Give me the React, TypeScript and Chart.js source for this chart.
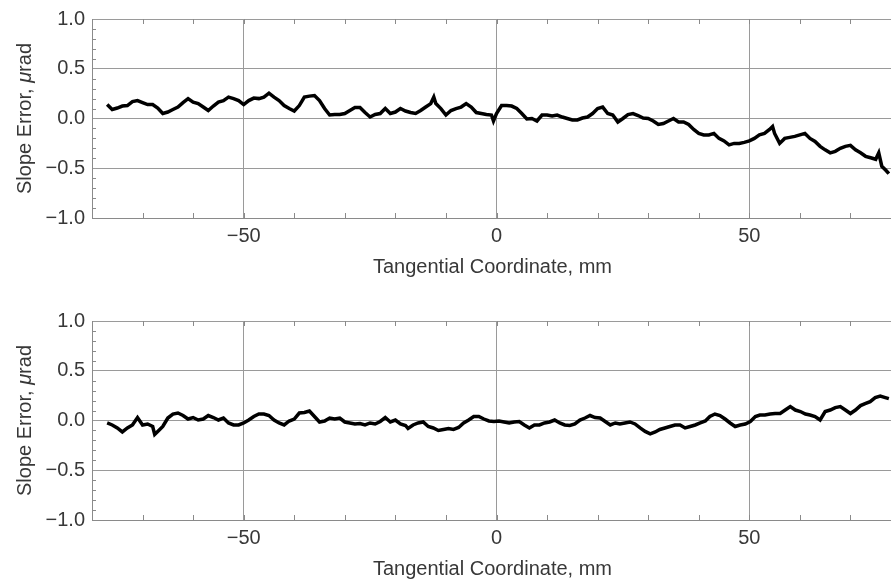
import React, { useEffect, useRef } from "react";
import { Chart, registerables } from "chart.js";

Chart.register(...registerables);

// ---------- data ----------
const topX = [
  -77, -76, -75, -74, -73, -72, -71, -70, -69, -68, -67, -66, -65, -64, -63, -62, -61, -60, -59, -58,
  -57, -56, -55, -54, -53, -52, -51, -50, -49, -48, -47, -46, -45, -44, -43, -42, -41, -40, -39, -38,
  -37, -36, -35, -34, -33, -32, -31, -30, -29, -28, -27, -26, -25, -24, -23, -22, -21, -20, -19, -18,
  -17, -16, -15, -14, -13, -12.4, -12, -11, -10, -9, -8, -7, -6, -5, -4, -3, -2, -1, -0.6, 0,
  1, 2, 3, 4, 5, 6, 7, 8, 9, 10, 11, 12, 13, 14, 15, 16, 17, 18, 19, 20,
  21, 22, 23, 24, 25, 26, 27, 28, 29, 30, 31, 32, 33, 34, 35, 36, 37, 38, 39, 40,
  41, 42, 43, 44, 45, 46, 47, 48, 49, 50, 51, 52, 53, 54, 54.6, 55, 56, 57, 58, 59,
  60, 61, 62, 63, 64, 65, 66, 67, 68, 69, 70, 71, 72, 73, 74, 75, 75.6, 76.2, 77, 77.6,
];
const topY = [
  0.14, 0.09, 0.105, 0.125, 0.13, 0.17, 0.18, 0.16, 0.14, 0.14, 0.105, 0.05, 0.065, 0.09, 0.115, 0.16, 0.2, 0.165, 0.15, 0.115,
  0.08, 0.125, 0.165, 0.18, 0.215, 0.2, 0.18, 0.14, 0.18, 0.205, 0.2, 0.215, 0.255, 0.215, 0.18, 0.13, 0.1, 0.075, 0.13, 0.215,
  0.225, 0.23, 0.18, 0.1, 0.035, 0.04, 0.04, 0.05, 0.08, 0.11, 0.11, 0.06, 0.015, 0.04, 0.05, 0.1, 0.05, 0.065, 0.1, 0.075,
  0.06, 0.05, 0.08, 0.115, 0.15, 0.215, 0.15, 0.1, 0.035, 0.08, 0.1, 0.115, 0.15, 0.115, 0.06, 0.05, 0.04, 0.035, -0.025, 0.05,
  0.13, 0.13, 0.125, 0.1, 0.05, -0.005, 0.0, -0.025, 0.035, 0.035, 0.025, 0.035, 0.015, 0.0, -0.015, -0.015, 0.005, 0.015, 0.05, 0.1,
  0.115, 0.05, 0.035, -0.035, 0.0, 0.04, 0.05, 0.03, 0.005, 0.0, -0.025, -0.06, -0.05, -0.025, 0.0, -0.035, -0.035, -0.06, -0.11, -0.15,
  -0.165, -0.165, -0.15, -0.2, -0.225, -0.265, -0.25, -0.25, -0.24, -0.225, -0.2, -0.165, -0.15, -0.11, -0.08, -0.15, -0.25, -0.2, -0.19, -0.18,
  -0.165, -0.15, -0.2, -0.23, -0.28, -0.315, -0.345, -0.33, -0.3, -0.28, -0.27, -0.315, -0.345, -0.38, -0.395, -0.41, -0.345, -0.48, -0.52, -0.555,
];

const bottomX = [
  -77, -76, -75, -74, -73, -72, -71, -70, -69, -68, -67.6, -67, -66, -65, -64, -63, -62, -61, -60, -59,
  -58, -57, -56, -55, -54, -53, -52, -51, -50, -49, -48, -47, -46, -45, -44, -43, -42, -41, -40, -39,
  -38, -37, -36, -35, -34, -33, -32, -31, -30, -29, -28, -27, -26, -25, -24, -23, -22, -21, -20, -19,
  -18, -17.5, -16.5, -15.5, -14.5, -13.5, -12.5, -11.5, -10.5, -9.5, -8.5, -7.5, -6.5, -5.5, -4.5, -3.5, -2.5, -1.5, -0.5, 0.5,
  1.5, 2.5, 3.5, 4.5, 5.5, 6.5, 7.5, 8.5, 9.5, 10.5, 11.5, 12.5, 13.5, 14.5, 15.5, 16.5, 17.5, 18.5, 19.5, 20.5,
  21.5, 22.5, 23.5, 24.4, 25.4, 26.4, 27.4, 28.4, 29.4, 30.4, 31.4, 32.3, 33.3, 34.3, 35.3, 36.3, 37.3, 38.3, 39.3, 40.3,
  41.3, 42.2, 43.2, 44.2, 45.2, 46.2, 47.2, 48.2, 49.2, 50.2, 51.2, 52.1, 53.1, 54.1, 55.1, 56.1, 57.1, 58.1, 59.1, 60.1,
  61.1, 62.0, 63.0, 64.0, 65.0, 66.0, 67.0, 68.0, 69.0, 70.0, 71.0, 72.0, 72.9, 73.9, 74.9, 75.9, 76.9, 77.6,
];
const bottomY = [
  -0.025, -0.045, -0.075, -0.115, -0.075, -0.045, 0.03, -0.045, -0.035, -0.06, -0.14, -0.11, -0.06, 0.025, 0.065, 0.075, 0.05, 0.015, 0.03, 0.005,
  0.015, 0.05, 0.03, 0.005, 0.025, -0.025, -0.045, -0.045, -0.025, 0.005, 0.04, 0.065, 0.065, 0.05, 0.005, -0.025, -0.045, -0.005, 0.015, 0.075,
  0.08, 0.095, 0.04, -0.015, -0.005, 0.025, 0.015, 0.025, -0.015, -0.025, -0.035, -0.03, -0.045, -0.025, -0.035, -0.01, 0.03, -0.015, 0.005, -0.035,
  -0.05, -0.08, -0.045, -0.025, -0.015, -0.06, -0.075, -0.1, -0.09, -0.08, -0.09, -0.07, -0.025, 0.005, 0.04, 0.04, 0.015, -0.005, -0.01, -0.005,
  -0.015, -0.025, -0.015, -0.01, -0.045, -0.075, -0.045, -0.045, -0.025, -0.015, 0.005, -0.025, -0.045, -0.05, -0.035, 0.005, 0.025, 0.05, 0.03, 0.025,
  -0.01, -0.045, -0.025, -0.035, -0.025, -0.015, -0.035, -0.075, -0.11, -0.135, -0.115, -0.09, -0.075, -0.06, -0.045, -0.045, -0.075, -0.06, -0.045, -0.025,
  -0.005, 0.04, 0.065, 0.05, 0.015, -0.025, -0.06, -0.045, -0.035, -0.01, 0.04, 0.055, 0.055, 0.065, 0.07, 0.07, 0.105, 0.14, 0.105, 0.09,
  0.065, 0.055, 0.04, 0.005, 0.09, 0.105, 0.13, 0.14, 0.105, 0.07, 0.105, 0.15, 0.17, 0.19, 0.23, 0.245, 0.23, 0.22,
];

// ---------- axes ----------
const xMin = -80;
const xMax = 80;
const yMin = -1;
const yMax = 1;
const xMajorTicks = [-50, 0, 50];
const xMinorTicks = [-70, -60, -50, -40, -30, -20, -10, 0, 10, 20, 30, 40, 50, 60, 70];
const yMajorTicks = [-1, -0.5, 0, 0.5, 1];
const yMinorTicks = [-0.9, -0.8, -0.7, -0.6, -0.4, -0.3, -0.2, -0.1, 0.1, 0.2, 0.3, 0.4, 0.6, 0.7, 0.8, 0.9];
const yTickLabels = ["−1.0", "−0.5", "0.0", "0.5", "1.0"];
const xTitle = "Tangential Coordinate, mm";
const yTitleParts: [string, boolean][] = [
  ["Slope Error, ", false],
  ["μ", true],
  ["rad", false],
];

const FONT_FAMILY = '"Liberation Sans", Arial, Helvetica, sans-serif';
const TEXT_COLOR = "#383838";
const GRID_COLOR = "#9a9a9a";
const FRAME_COLOR = "#8a8a8a";

const CANVAS_W = 906;
const CANVAS_H = 302;

const decorPlugin = {
  id: "decor",
  afterDraw(chart: any) {
    const { ctx, chartArea: a } = chart;
    const xs = chart.scales.x;
    const ys = chart.scales.y;
    ctx.save();
    // inward tick marks on frame
    ctx.strokeStyle = FRAME_COLOR;
    ctx.lineWidth = 1;
    ctx.beginPath();
    for (const v of xMinorTicks) {
      const px = Math.round(xs.getPixelForValue(v)) + 0.5;
      ctx.moveTo(px, a.bottom);
      ctx.lineTo(px, a.bottom - 5);
      ctx.moveTo(px, a.top);
      ctx.lineTo(px, a.top + 5);
    }
    for (const v of yMinorTicks) {
      const py = Math.round(ys.getPixelForValue(v)) + 0.5;
      ctx.moveTo(a.left, py);
      ctx.lineTo(a.left + 4, py);
    }
    ctx.stroke();

    // x title
    ctx.fillStyle = TEXT_COLOR;
    ctx.font = `20px ${FONT_FAMILY}`;
    ctx.textAlign = "center";
    ctx.textBaseline = "alphabetic";
    ctx.fillText(xTitle, (a.left + a.right) / 2 - 4, a.bottom + 55);

    // y title (rotated, with italic mu)
    ctx.translate(31, (a.top + a.bottom) / 2);
    ctx.rotate(-Math.PI / 2);
    ctx.textAlign = "left";
    const fonts = yTitleParts.map(([, it]) => `${it ? "italic " : ""}20px ${FONT_FAMILY}`);
    let total = 0;
    const widths = yTitleParts.map(([t], i) => {
      ctx.font = fonts[i];
      const w = ctx.measureText(t).width;
      total += w;
      return w;
    });
    let cx = -total / 2;
    yTitleParts.forEach(([t], i) => {
      ctx.font = fonts[i];
      ctx.fillText(t, cx, 0);
      cx += widths[i];
    });
    ctx.restore();
  },
};

function makeConfig(xs: number[], ys: number[]): any {
  return {
    type: "line",
    data: {
      datasets: [
        {
          data: xs.map((x, i) => ({ x, y: ys[i] })),
          borderColor: "#000000",
          borderWidth: 3.5,
          borderJoinStyle: "miter",
          pointRadius: 0,
          tension: 0,
          fill: false,
        },
      ],
    },
    options: {
      responsive: false,
      animation: false,
      events: [],
      layout: { padding: { top: 16, right: 5, left: 0, bottom: 0 } },
      plugins: { legend: { display: false }, tooltip: { enabled: false }, title: { display: false } },
      scales: {
        x: {
          type: "linear",
          min: xMin,
          max: xMax,
          afterBuildTicks: (s: any) => {
            s.ticks = xMajorTicks.map((v) => ({ value: v }));
          },
          afterFit: (s: any) => {
            s.height = 84;
          },
          ticks: {
            autoSkip: false,
            maxRotation: 0,
            padding: 6,
            color: TEXT_COLOR,
            font: { family: FONT_FAMILY, size: 20 },
            callback: (v: number) => (v < 0 ? "−" + Math.abs(v) : String(v)),
          },
          grid: { color: GRID_COLOR, lineWidth: 1, drawTicks: false },
          border: { display: true, color: FRAME_COLOR, width: 1 },
        },
        y: {
          type: "linear",
          min: yMin,
          max: yMax,
          afterBuildTicks: (s: any) => {
            s.ticks = yMajorTicks.map((v) => ({ value: v }));
          },
          afterFit: (s: any) => {
            s.width = 92;
          },
          ticks: {
            autoSkip: false,
            padding: 7,
            color: TEXT_COLOR,
            font: { family: FONT_FAMILY, size: 20 },
            callback: (v: number) => yTickLabels[yMajorTicks.indexOf(v)] ?? String(v),
          },
          grid: { color: GRID_COLOR, lineWidth: 1, drawTicks: false },
          border: { display: true, color: FRAME_COLOR, width: 1 },
        },
      },
    },
    plugins: [decorPlugin],
  };
}

function Panel({ xs, ys, top }: { xs: number[]; ys: number[]; top: number }) {
  const ref = useRef<HTMLCanvasElement | null>(null);
  useEffect(() => {
    if (!ref.current) return;
    const chart = new Chart(ref.current, makeConfig(xs, ys));
    return () => chart.destroy();
  }, [xs, ys]);
  return (
    <canvas
      ref={ref}
      width={CANVAS_W}
      height={CANVAS_H}
      style={{ position: "absolute", left: 0, top, width: CANVAS_W, height: CANVAS_H }}
    />
  );
}

export default function App() {
  return (
    <div
      style={{
        position: "fixed",
        left: 0,
        top: 0,
        width: 891,
        height: 581,
        overflow: "hidden",
        background: "#ffffff",
      }}
    >
      <Panel xs={topX} ys={topY} top={0} />
      <Panel xs={bottomX} ys={bottomY} top={302} />
    </div>
  );
}
